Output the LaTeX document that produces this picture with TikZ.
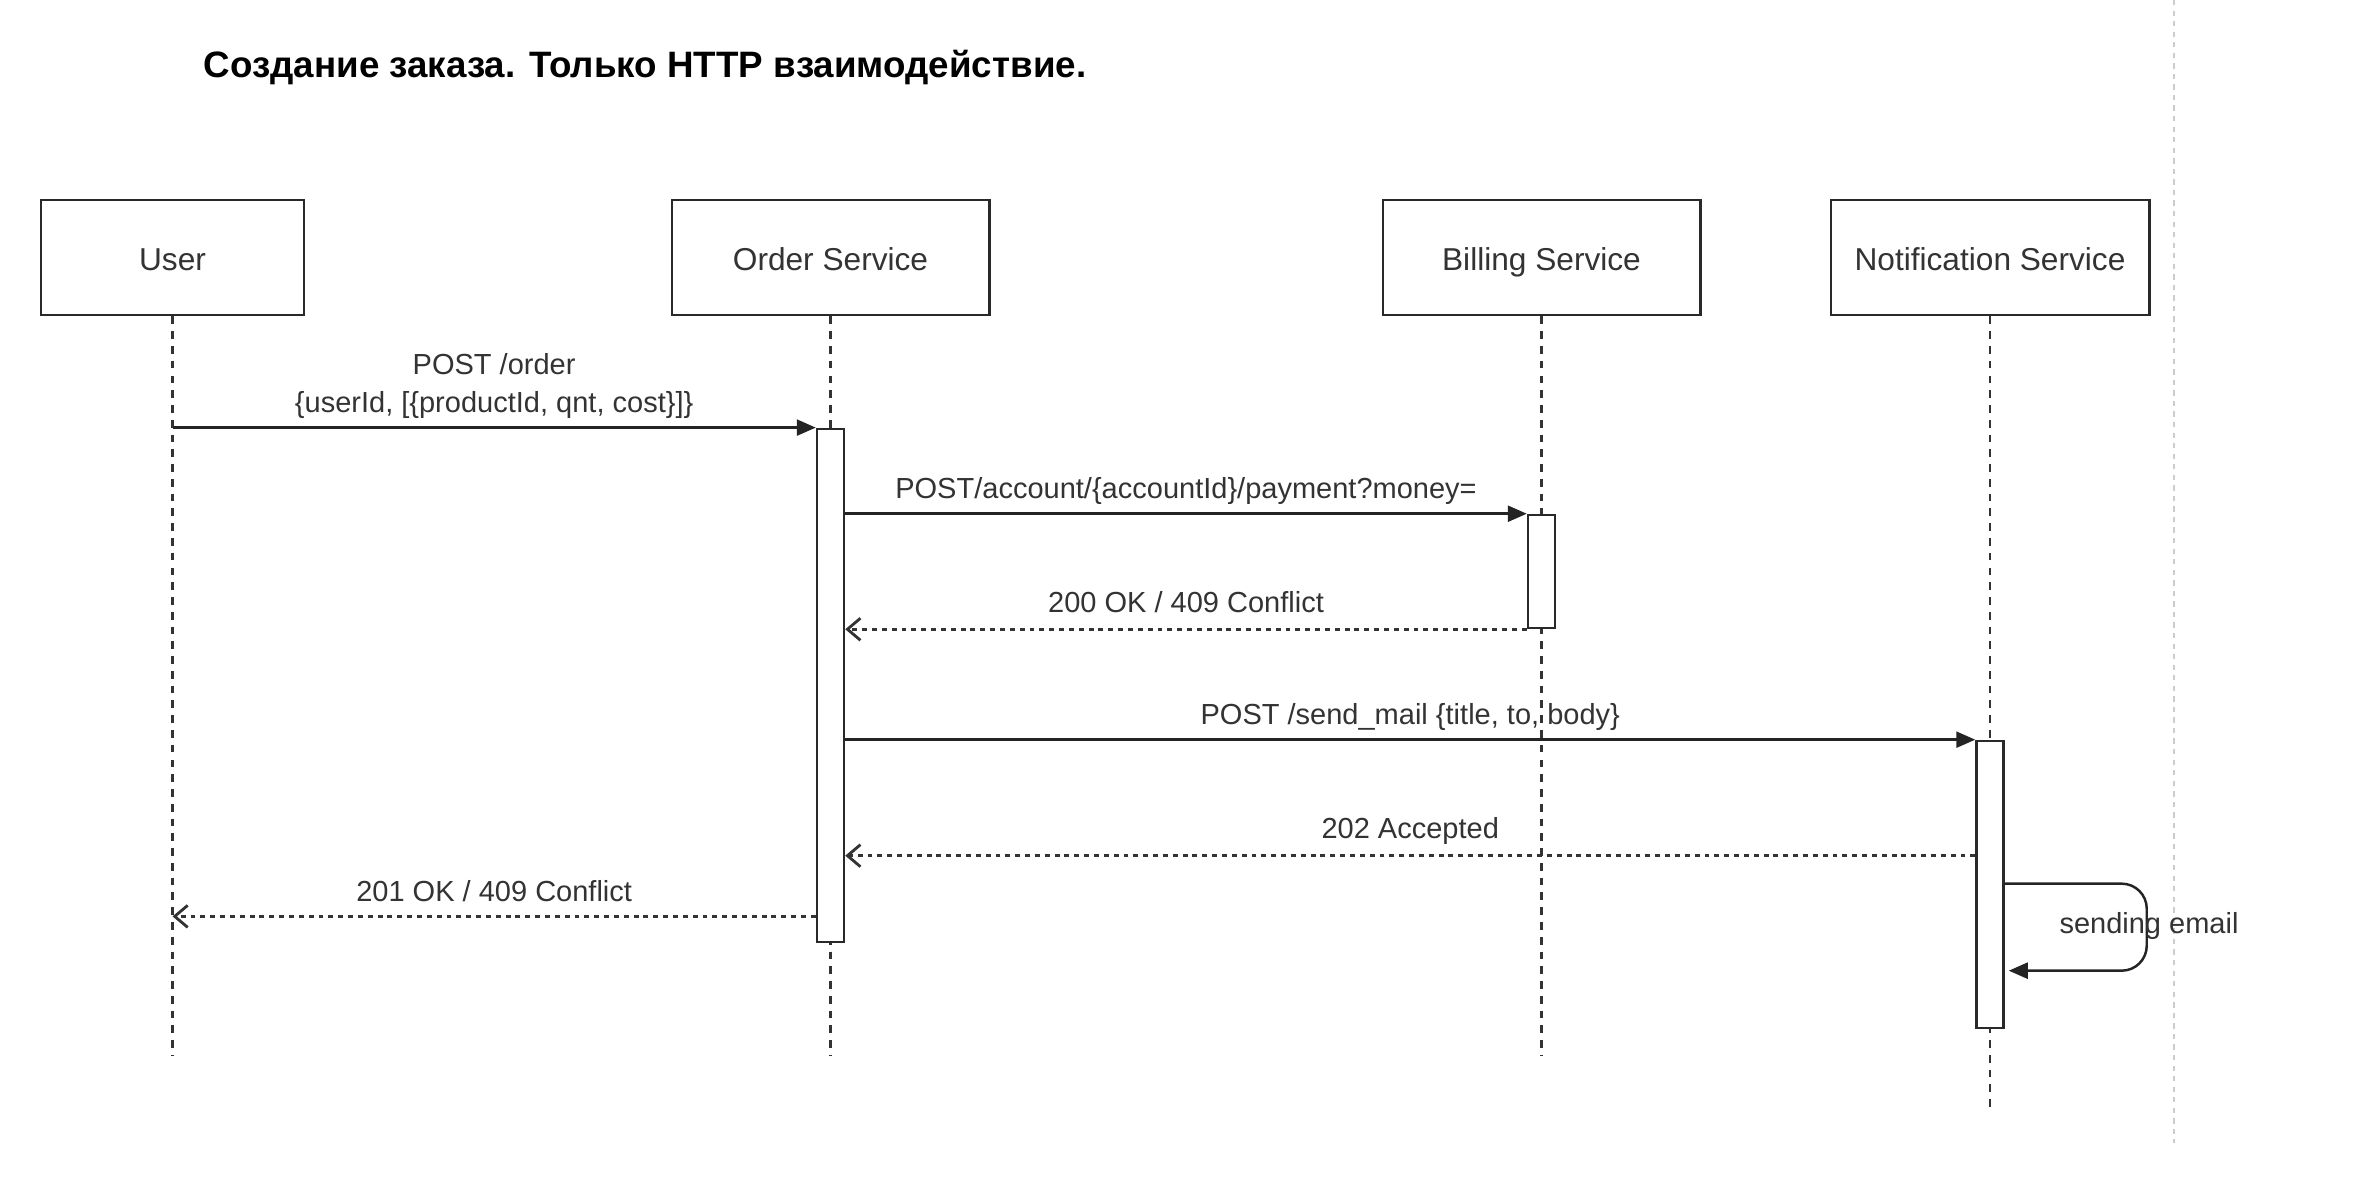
\documentclass[tikz,border=0pt]{standalone}
\usepackage{fontspec}
\setmainfont{Liberation Sans}
\usetikzlibrary{arrows.meta,positioning,calc}
\definecolor{ink}{HTML}{333333}
\definecolor{pageline}{HTML}{CCCCCC}

\begin{document}
\begin{tikzpicture}[x=0.01cm,y=-0.01cm,
  actor/.style={rectangle,draw=ink!80!black,line width=0.8pt,minimum height=1.15cm,text=ink,text height=1.6ex,text depth=0.25ex,font=\fontsize{9}{11}\selectfont},
  bar/.style={rectangle,draw=ink!80!black,fill=white,line width=0.7pt,minimum width=0.27cm,inner sep=0pt},
  life/.style={draw=ink,line width=0.6pt,dash pattern=on 2.2pt off 2pt},
  call/.style={draw=ink!70!black,line width=0.7pt,-{Triangle[length=0.19cm,width=0.16cm]}},
  ret/.style={draw=ink,line width=0.8pt,dash pattern=on 1.4pt off 1.4pt,-{Straight Barb[length=0.13cm,width=0.22cm]}},
  msg/.style={text=ink,font=\fontsize{8.25}{10.8}\selectfont,align=center}]

\useasboundingbox[fill=white] (0,0) rectangle (2363,1186);

% page border of the editor
\coordinate (pagetop) at (2174,0);
\coordinate (pagebot) at (2174,1143);
\draw[pageline,line width=0.8pt,dash pattern=on 1.5pt off 1.5pt] (pagetop) -- (pagebot);

% title
\node (title) at (203,78)[anchor=base west,inner sep=0pt,font=\fontsize{10.45}{12.5}\selectfont\bfseries] {Создание заказа. Только HTTP взаимодействие.};

% participants
\node (user) at (172.5,257.5)[actor,minimum width=2.63cm] {User};
\node (order) at (830.5,257.5)[actor,minimum width=3.17cm] {Order Service};
\node (billing) at (1541.5,257.5)[actor,minimum width=3.17cm] {Billing Service};
\node (notif) at (1990,257.5)[actor,minimum width=3.18cm] {Notification Service};

% lifelines
\coordinate (userend) at (172.5,1055);
\coordinate (orderend) at (830.5,1055);
\coordinate (billingend) at (1541.5,1055);
\coordinate (notifend) at (1990,1112);
\draw[life] (user) -- (userend);
\draw[life] (order) -- (orderend);
\draw[life] (billing) -- (billingend);
\draw[life] (notif) -- (notifend);

% activations
\node (orderbar) at (830.5,685.5)[bar,minimum height=5.13cm] {};
\node (billbar) at (1541.5,571.5)[bar,minimum height=1.13cm] {};
\node (notifbar) at (1990,884.5)[bar,minimum height=2.87cm] {};

% messages
\draw[call] (user |- orderbar.north) -- node[msg,above=-1pt] {POST /order\\\{userId, [\{productId, qnt, cost\}]\}} (orderbar.north west);
\draw[call] (orderbar.east |- billbar.north) -- node[msg,above=-1pt] {POST/account/\{accountId\}/payment?money=} (billbar.north west);
\draw[ret] (billbar.south west) -- node[msg,above=1pt] {200 OK / 409 Conflict} (orderbar.east |- billbar.south);
\draw[call] (orderbar.east |- notifbar.north) -- node[msg,above=-1pt] {POST /send\_mail \{title, to, body\}} (notifbar.north west);

\coordinate (accepted) at ($(notifbar.north west)+(0,116)$);
\draw[ret] (accepted) -- node[msg,above=-0.5pt] {202 Accepted} (orderbar.east |- accepted);

\coordinate (reply) at ($(orderbar.south west)+(0,-27)$);
\draw[ret] (reply) -- node[msg,above=0.5pt] {201 OK / 409 Conflict} (user |- reply);

% self call
\coordinate (loopout) at ($(notifbar.north east)+(0,144)$);
\coordinate (loopin) at ($(notifbar.north east)+(4,231)$);
\draw[call,rounded corners=0.25cm] (loopout) -- ++(142,0) -- ++(0,87) -- (loopin);
\node (sending) at (2149,926)[msg] {sending email};
\end{tikzpicture}
\end{document}
